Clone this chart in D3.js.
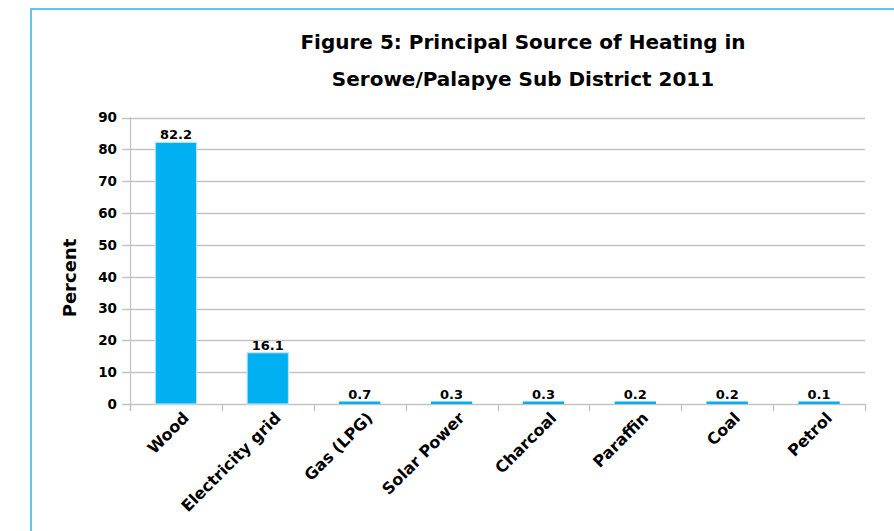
<!DOCTYPE html>
<html>
<head>
<meta charset="utf-8">
<script src="https://cdn.jsdelivr.net/npm/d3@7/dist/d3.min.js"></script>
<style>
  body { margin: 0; background: #fff; }
  text { font-family: "DejaVu Sans", sans-serif; font-weight: bold; fill: #000; }
</style>
</head>
<body>
<div id="chart"></div>
<script>
(function () {

  // Data

  var categories = ["Wood", "Electricity grid", "Gas (LPG)", "Solar Power", "Charcoal", "Paraffin", "Coal", "Petrol"]
  var values = [82.2, 16.1, 0.7, 0.3, 0.3, 0.2, 0.2, 0.1]
  var yTicks = [0, 10, 20, 30, 40, 50, 60, 70, 80, 90]
  var titleLines = ["Figure 5: Principal Source of Heating in", "Serowe/Palapye Sub District 2011"]

  var width = 894,
      height = 531

  var margin = { top: 117.5, right: 29, bottom: 127, left: 130 }

  var svg = d3.select("#chart").append("svg")
      .attr("width", width)
      .attr("height", height)

  // Frame

  svg.append("path")
    .attr("d", "M31,531 V9 H894")
    .attr("fill", "none")
    .attr("stroke", "#62c6ef")
    .attr("stroke-width", 2)

  // Title

  svg.selectAll(".title")
    .data(titleLines)
    .enter().append("text")
    .attr("class", "title")
    .attr("x", 523)
    .attr("y", function(d, i){ return 49 + i * 37 })
    .attr("text-anchor", "middle")
    .style("font-size", "20px")
    .text(function(d){ return d })

  // Scales

  var x = d3.scaleBand()
    .domain(categories)
    .range([margin.left, width - margin.right])
    .paddingInner(0.55)
    .paddingOuter(0.275)

  var y = d3.scaleLinear()
    .domain([0, 90])
    .range([height - margin.bottom, margin.top])

  // Gridlines

  svg.selectAll(".grid")
    .data(yTicks)
    .enter().append("line")
    .attr("class", "grid")
    .attr("x1", margin.left - 8)
    .attr("x2", width - margin.right)
    .attr("y1", function(d){ return Math.round(y(d)) + 0.5 })
    .attr("y2", function(d){ return Math.round(y(d)) + 0.5 })
    .attr("stroke", "#c6c2c2")
    .attr("stroke-width", 1.3)

  // Y axis labels

  svg.selectAll(".ylab")
    .data(yTicks)
    .enter().append("text")
    .attr("class", "ylab")
    .attr("x", 117)
    .attr("y", function(d){ return y(d) })
    .attr("dy", "0.36em")
    .attr("text-anchor", "end")
    .style("font-size", "13.5px")
    .text(function(d){ return d })

  // Y axis line

  svg.append("line")
    .attr("x1", margin.left + 0.5)
    .attr("x2", margin.left + 0.5)
    .attr("y1", y(90))
    .attr("y2", y(0) + 7)
    .attr("stroke", "#c6c2c2")
    .attr("stroke-width", 1.3)

  // X ticks at category boundaries

  var step = x.step()
  var bounds = d3.range(categories.length + 1).map(function(i){ return margin.left + i * step })

  svg.selectAll(".xtick")
    .data(bounds)
    .enter().append("line")
    .attr("class", "xtick")
    .attr("x1", function(d){ return Math.round(d) + 0.5 })
    .attr("x2", function(d){ return Math.round(d) + 0.5 })
    .attr("y1", y(0))
    .attr("y2", y(0) + 7)
    .attr("stroke", "#c6c2c2")
    .attr("stroke-width", 1.3)

  // Bars

  svg.selectAll(".bar")
    .data(values)
    .enter().append("rect")
    .attr("class", "bar")
    .attr("x", function(d, i){ return x(categories[i]) })
    .attr("width", x.bandwidth())
    .attr("y", function(d){ return Math.min(y(d), y(0) - 2.5) })
    .attr("height", function(d){ return Math.max(y(0) - y(d), 2.5) })
    .attr("fill", "#00b0f0")
    .attr("stroke", function(d){ return d > 5 ? "#bfe3f3" : "none" })
    .attr("stroke-width", 1.2)

  // Value labels

  svg.selectAll(".vlab")
    .data(values)
    .enter().append("text")
    .attr("class", "vlab")
    .attr("x", function(d, i){ return x(categories[i]) + x.bandwidth() / 2 })
    .attr("y", function(d){ return Math.min(y(d), y(0) - 2.5) - 3 })
    .attr("text-anchor", "middle")
    .style("font-size", "13px")
    .text(function(d){ return d })

  // Category labels

  svg.selectAll(".xlab")
    .data(categories)
    .enter().append("text")
    .attr("class", "xlab")
    .attr("transform", function(d){
      return "translate(" + (x(d) + x.bandwidth() / 2 + 14) + "," + (y(0) + 15) + ") rotate(-45)"
    })
    .attr("text-anchor", "end")
    .style("font-size", "16px")
    .text(function(d){ return d })

  // Y axis title

  svg.append("text")
    .attr("transform", "translate(76," + 278 + ") rotate(-90)")
    .attr("text-anchor", "middle")
    .style("font-size", "18px")
    .text("Percent")

})()
</script>
</body>
</html>
